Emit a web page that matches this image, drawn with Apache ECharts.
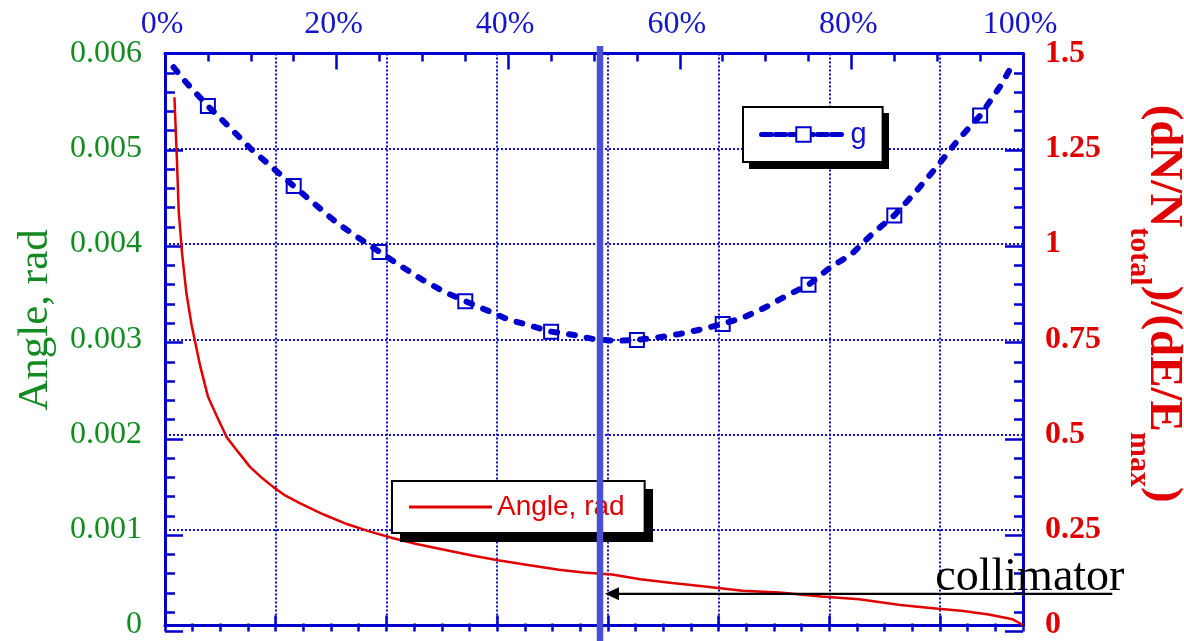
<!DOCTYPE html>
<html><head><meta charset="utf-8">
<script src="https://cdn.jsdelivr.net/npm/echarts@6/dist/echarts.min.js"></script>
<style>html,body{margin:0;padding:0;background:#fff}#c{width:1184px;height:641px}</style>
</head><body><div id="c"></div>
<script>
// ---- data ----
// top axis: fraction of maximum energy, percent
const topTickLabels = ['0%', '20%', '40%', '60%', '80%', '100%'];
const leftTickLabels = ['0', '0.001', '0.002', '0.003', '0.004', '0.005', '0.006'];
const rightTickLabels = ['0', '0.25', '0.5', '0.75', '1', '1.25', '1.5'];

// series "g" (right axis, dN/N_total / dE/E_max)
const gPct = [1, 2.5, 5, 7.5, 10, 12.5, 15, 17.5, 20, 22.5, 25, 27.5, 30, 32.5, 35, 37.5, 40, 42.5, 45, 47.5, 50,
  52.5, 55, 57.5, 60, 62.5, 65, 67.5, 70, 72.5, 75, 77.5, 80, 82.5, 85, 87.5, 90, 92.5, 95, 97.5, 98.8];
const gVal = [1.464, 1.423, 1.362, 1.307, 1.250, 1.201, 1.152, 1.104, 1.056, 1.017, 0.979, 0.942, 0.906, 0.875, 0.850, 0.826, 0.802, 0.786, 0.770, 0.762, 0.750,
  0.746, 0.748, 0.755, 0.764, 0.776, 0.790, 0.808, 0.834, 0.865, 0.893, 0.938, 0.973, 1.028, 1.075, 1.137, 1.204, 1.275, 1.337, 1.419, 1.472];
const gMarkerPct = [5, 15, 25, 35, 45, 55, 65, 75, 85, 95];

// series "Angle, rad" (left axis)
const angPct = [1.1, 1.4, 1.6, 2.0, 2.5, 3.1, 4.1, 5.0, 6.0, 7.2, 8.5, 9.9, 11.1, 12.6, 14.0, 15.7, 18.5, 21.2, 23.9, 26.6,
  29.3, 33.1, 35.8, 38.8, 42.3, 45.9, 48.8, 52.1, 55.4, 59.1, 62.4, 67.3, 71.6, 76.5, 80.9, 85.7, 90.1, 92.8, 96.0, 98.8, 100];
const angVal = [0.00554, 0.00486, 0.00434, 0.00389, 0.00348, 0.00315, 0.00272, 0.00240, 0.00220, 0.00197, 0.00182, 0.00166, 0.00156, 0.00145, 0.00136, 0.00128, 0.00116, 0.00106, 0.00098, 0.00091,
  0.00085, 0.00078, 0.00073, 0.00068, 0.00063, 0.00058, 0.00055, 0.00053, 0.00048, 0.00044, 0.00041, 0.00036, 0.00034, 0.00030, 0.00027, 0.00021, 0.00017, 0.00015, 0.00011, 0.00006, 0];

// hidden bottom axis (grid lines), in quarter units
const bottomMax = 31;
// annotation
const collimatorPct = 50.7;
const arrowVal = 0.000327;
const arrowEndPct = 110.4;
const collimatorTextPct = 100.8;
const collimatorTextVal = 0.000498;

// ---- chart ----
const BLUE = '#0000cc';
const RED = '#e00000';
const GREEN = '#138a22';
const SERIF = 'Liberation Serif';
const SANS = 'Liberation Sans';
const gridDot = {color: '#1010d4', width: 2, type: [2, 2]};
const L = 165, T = 53.5, W = 858, H = 578;

const chart = echarts.init(document.getElementById('c'), null, {renderer: 'canvas'});

const topIdx = v => topTickLabels[Math.round(v / 20)];
const leftIdx = v => leftTickLabels[Math.round(v / 0.001)];
const rightIdx = v => rightTickLabels[Math.round(v / 0.25)];

const noLine = {show: false, onZero: false};
const blueLine = {show: true, onZero: false, lineStyle: {color: BLUE, width: 3}};
const tick = (len) => ({show: true, length: len, lineStyle: {color: BLUE, width: 2.5}});
const minor = (n, len) => ({show: true, splitNumber: n, length: len, lineStyle: {color: BLUE, width: 2.5}});
const dummy = (grid) => ({type: 'value', gridIndex: grid, show: false, min: 0, max: 1});
// tick-only axes live in thin helper grids around the plot so their (outward) ticks point into the plot
const tickAxis = (grid, pos, min, max, interval, tLen, mSplit, mLen) => ({
  type: 'value', gridIndex: grid, position: pos, min, max, interval,
  axisLine: noLine, axisLabel: {show: false}, splitLine: {show: false},
  axisTick: tick(tLen), minorTick: mSplit ? minor(mSplit, mLen) : {show: false}
});

const option = {
  animation: false,
  backgroundColor: '#fff',
  grid: [
    {left: L, top: T, width: W, height: H},
    {left: 0, top: T, width: L, height: H},
    {left: L + W, top: T, width: 1184 - L - W, height: H},
    {left: L, top: 0, width: W, height: T},
    {left: L, top: T + H, width: W, height: 641 - T - H}
  ],
  xAxis: [
    {
      type: 'value', gridIndex: 0, position: 'top', min: 0, max: 100, interval: 20,
      axisLine: blueLine, axisTick: {show: false}, minorTick: {show: false},
      splitLine: {show: false},
      axisLabel: {show: true, margin: 13, fontFamily: SERIF, fontSize: 32, color: '#1414cc',
        formatter: topIdx, padding: [0, 6, 0, 0]}
    },
    {
      type: 'value', gridIndex: 0, position: 'bottom', min: 0, max: bottomMax, interval: 4,
      axisLine: blueLine, axisTick: {show: false}, axisLabel: {show: false},
      splitLine: {show: true, lineStyle: gridDot}
    },
    dummy(1), dummy(2),
    tickAxis(3, 'bottom', 0, 100, 20, 16, 4, 8),
    tickAxis(4, 'top', 0, bottomMax, 1, 8, 0, 0),
    tickAxis(4, 'top', 0, bottomMax, 4, 16, 0, 0)
  ],
  yAxis: [
    {
      type: 'value', gridIndex: 0, position: 'left', min: 0, max: 0.006, interval: 0.001,
      axisLine: blueLine, axisTick: {show: false}, minorTick: {show: false},
      splitLine: {show: true, lineStyle: gridDot},
      axisLabel: {margin: 23, fontFamily: SERIF, fontSize: 32, color: GREEN, formatter: leftIdx, padding: [0, 0, 13, 0]}
    },
    {
      type: 'value', gridIndex: 0, position: 'right', min: 0, max: 1.5, interval: 0.25,
      axisLine: blueLine, axisTick: {show: false}, minorTick: {show: false},
      splitLine: {show: false},
      axisLabel: {margin: 22, fontFamily: SERIF, fontWeight: 'bold', fontSize: 32, color: RED, formatter: rightIdx, padding: [0, 0, 7, 0]}
    },
    tickAxis(1, 'right', 0, 0.006, 0.001, 18, 5, 10),
    tickAxis(2, 'left', 0, 1.5, 0.25, 18, 5, 9),
    dummy(3), dummy(4)
  ],
  legend: [
    {
      data: ['g'], left: 743, top: 107, orient: 'horizontal', padding: [13, 16, 13, 16],
      itemWidth: 84, itemHeight: 18, selectedMode: false, z: 6,
      backgroundColor: '#fff', borderColor: '#000', borderWidth: 2,
      lineStyle: {color: BLUE, width: 5, type: [10, 4]},
      itemStyle: {color: '#fff', borderColor: BLUE, borderWidth: 2},
      textStyle: {fontFamily: SANS, fontSize: 29, color: '#1010cc'}
    },
    {
      data: [{name: 'Angle, rad', icon: 'rect'}], left: 392, top: 481, orient: 'horizontal', padding: [12, 20, 12, 17],
      itemWidth: 83, itemHeight: 3, selectedMode: false, z: 6,
      backgroundColor: '#fff', borderColor: '#000', borderWidth: 2,
      textStyle: {fontFamily: SANS, fontSize: 28, color: RED}
    }
  ],
  series: [
    {
      name: 'g', type: 'line', xAxisIndex: 0, yAxisIndex: 1,
      data: gPct.map((p, i) => ({value: [p, gVal[i]], symbol: gMarkerPct.includes(p) ? 'rect' : 'none'})),
      symbol: 'rect', symbolSize: 14, showSymbol: true,
      lineStyle: {color: BLUE, width: 6, type: [6, 12], cap: 'round'},
      itemStyle: {color: 'rgba(255,255,255,0)', borderColor: BLUE, borderWidth: 2},
      z: 3
    },
    {
      name: 'Angle, rad', type: 'line', xAxisIndex: 0, yAxisIndex: 0,
      data: angPct.map((p, i) => [p, angVal[i]]),
      symbol: 'none',
      lineStyle: {color: RED, width: 2.5},
      itemStyle: {color: RED},
      z: 3
    }
  ]
};
chart.setOption(option);

// ---- annotations ----
const cx = chart.convertToPixel({xAxisIndex: 0}, collimatorPct);
const arrowPt = chart.convertToPixel({xAxisIndex: 0, yAxisIndex: 0}, [arrowEndPct, arrowVal]);
const textPt = chart.convertToPixel({xAxisIndex: 0, yAxisIndex: 0}, [collimatorTextPct, collimatorTextVal]);
const ay = arrowPt[1];

chart.setOption({
  graphic: [
    // legend drop shadows
    {type: 'rect', z: 5, shape: {x: 749, y: 113, width: 140, height: 56}, style: {fill: '#000'}},
    {type: 'rect', z: 5, shape: {x: 400, y: 489, width: 253, height: 53}, style: {fill: '#000'}},
    {type: 'rect', z: 100, shape: {x: cx - 3.25, y: 46, width: 6.5, height: 600}, style: {fill: '#4a4fd6'}},
    {type: 'line', z: 101, shape: {x1: arrowPt[0], y1: ay, x2: cx + 16, y2: ay}, style: {stroke: '#000', lineWidth: 2.2}},
    {type: 'polygon', z: 101, shape: {points: [[cx + 5, ay], [cx + 19, ay - 6.5], [cx + 19, ay + 6.5]]}, style: {fill: '#000'}},
    {type: 'text', z: 101, x: textPt[0], y: textPt[1],
      style: {text: 'collimator', font: '46px "Liberation Serif"', fill: '#000',
        align: 'center', verticalAlign: 'middle', textAlign: 'center', textVerticalAlign: 'middle'}},
    {type: 'text', z: 101, x: 35.5, y: 320, rotation: Math.PI / 2,
      style: {text: 'Angle, rad', font: '43px "Liberation Serif"', fill: GREEN,
        align: 'center', verticalAlign: 'middle', textAlign: 'center', textVerticalAlign: 'middle'}},
    {type: 'text', z: 101, x: 1155, y: 303.6, rotation: -Math.PI / 2,
      style: {
        text: '{m|(dN/N}{s|total}{m|)/(dE/E}{s|max}{m|)}',
        align: 'center', verticalAlign: 'middle', textAlign: 'center', textVerticalAlign: 'middle',
        fill: RED,
        rich: {
          m: {fontFamily: SERIF, fontWeight: 'bold', fontSize: 47, lineHeight: 47, verticalAlign: 'top', fill: RED},
          s: {fontFamily: SERIF, fontWeight: 'bold', fontSize: 30, lineHeight: 63, verticalAlign: 'bottom', fill: RED}
        }
      }}
  ]
});
</script>
</body></html>
